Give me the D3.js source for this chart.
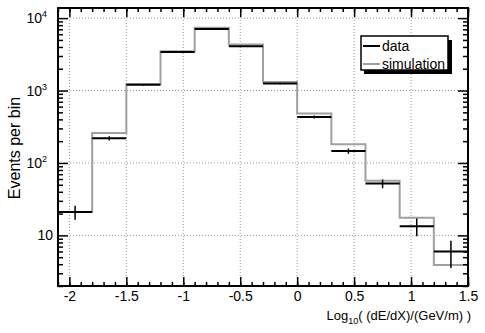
<!DOCTYPE html>
<html>
<head>
<meta charset="utf-8">
<script src="https://cdn.jsdelivr.net/npm/d3@7"></script>
<style>
body { margin: 0; background: #fff; }
svg { font-family: "Liberation Sans", Arial, sans-serif; }
</style>
</head>
<body>
<svg width="485" height="333"></svg>
<script>
// bin edges and counts
var binEdges = [-2.1, -1.8, -1.5, -1.2, -0.9, -0.6, -0.3, 0, 0.3, 0.6, 0.9, 1.2, 1.5];
var dataCounts = [21, 219, 1200, 3400, 7050, 4100, 1250, 431, 146, 52, 13.4, 6];
var simCounts = [21, 259, 1230, 3500, 7350, 4330, 1315, 481, 181, 57, 17.5, 3.9];
var xMajor = [-2, -1.5, -1, -0.5, 0, 0.5, 1, 1.5];
var yMajor = [10, 100, 1000, 10000];
var yLabels = [["10", ""], ["10", "2"], ["10", "3"], ["10", "4"]];

var svg = d3.select('svg');
var pL = 58, pR = 468, pT = 8, pB = 286;

var x = d3.scaleLinear().domain([-2.1, 1.5]).range([pL, pR]);
var y = d3.scaleLog().domain([2, 13800]).range([pB, pT]);

// grid
svg.selectAll('.vgrid').data(xMajor.filter(function(d){ return d < 1.5; })).enter()
    .append('line')
    .attr('x1', function(d){ return x(d); }).attr('x2', function(d){ return x(d); })
    .attr('y1', pT).attr('y2', pB)
    .attr('stroke', '#999').attr('stroke-width', 1).attr('stroke-dasharray', '1,2');
svg.selectAll('.hgrid').data(yMajor).enter()
    .append('line')
    .attr('x1', pL).attr('x2', pR)
    .attr('y1', function(d){ return y(d); }).attr('y2', function(d){ return y(d); })
    .attr('stroke', '#999').attr('stroke-width', 1).attr('stroke-dasharray', '1,2');

// simulation histogram as a step line
var simPts = [];
simCounts.forEach(function(c, i){
    simPts.push([binEdges[i], c]);
    simPts.push([binEdges[i + 1], c]);
});
svg.append('path')
    .attr('d', d3.line().x(function(d){ return x(d[0]); }).y(function(d){ return y(d[1]); })(simPts))
    .attr('fill', 'none').attr('stroke', '#a0a0a0').attr('stroke-width', 2);

// data: horizontal bars with sqrt(N) error bars
var g = svg.append('g');
dataCounts.forEach(function(c, i){
    var mid = (binEdges[i] + binEdges[i + 1]) / 2;
    var err = Math.sqrt(c);
    g.append('line')
        .attr('x1', x(binEdges[i])).attr('x2', x(binEdges[i + 1]))
        .attr('y1', y(c)).attr('y2', y(c))
        .attr('stroke', '#000').attr('stroke-width', 2);
    g.append('line')
        .attr('x1', x(mid)).attr('x2', x(mid))
        .attr('y1', y(c + err)).attr('y2', y(Math.max(c - err, 2)))
        .attr('stroke', '#000').attr('stroke-width', 1.5);
});

// axes: inward ticks on all four sides
var xMinor = d3.range(-21, 16).map(function(d){ return d / 10; });
var yMinor = [];
[1, 10, 100, 1000, 10000].forEach(function(p){
    for (var k = 2; k <= 9; k++) { if (p * k >= 2 && p * k <= 13800) yMinor.push(p * k); }
});

svg.append('g').attr('transform', 'translate(0,' + pB + ')')
    .call(d3.axisBottom(x).tickValues(xMinor).tickSize(-4).tickFormat(''));
svg.append('g').attr('transform', 'translate(0,' + pB + ')')
    .call(d3.axisBottom(x).tickValues(xMajor).tickSize(-9).tickPadding(5)
        .tickFormat(function(d){ return d; }));
svg.append('g').attr('transform', 'translate(0,' + pT + ')')
    .call(d3.axisTop(x).tickValues(xMinor).tickSize(-4).tickFormat(''));
svg.append('g').attr('transform', 'translate(0,' + pT + ')')
    .call(d3.axisTop(x).tickValues(xMajor).tickSize(-9).tickFormat(''));

svg.append('g').attr('transform', 'translate(' + pL + ',0)')
    .call(d3.axisLeft(y).tickValues(yMinor).tickSize(-5).tickFormat(''));
svg.append('g').attr('transform', 'translate(' + pL + ',0)')
    .call(d3.axisLeft(y).tickValues(yMajor).tickSize(-10).tickFormat(''));
svg.append('g').attr('transform', 'translate(' + pR + ',0)')
    .call(d3.axisRight(y).tickValues(yMinor).tickSize(-5).tickFormat(''));
svg.append('g').attr('transform', 'translate(' + pR + ',0)')
    .call(d3.axisRight(y).tickValues(yMajor).tickSize(-10).tickFormat(''));

svg.selectAll('.domain').remove();
svg.selectAll('.tick line').attr('stroke', '#000').attr('stroke-width', 1.5);
svg.selectAll('.tick text').attr('font-size', 14).attr('fill', '#000')
    .attr('font-family', '"Liberation Sans", Arial, sans-serif');

// frame
svg.append('rect').attr('x', pL).attr('y', pT)
    .attr('width', pR - pL).attr('height', pB - pT)
    .attr('fill', 'none').attr('stroke', '#000').attr('stroke-width', 2);

// y tick labels with superscripts
yMajor.forEach(function(v, i){
    var t = svg.append('text')
        .attr('x', yLabels[i][1] ? 47 : 53).attr('y', y(v) + 5)
        .attr('text-anchor', 'end').attr('font-size', 14);
    t.append('tspan').text(yLabels[i][0]);
    if (yLabels[i][1]) {
        t.append('tspan').attr('dy', -6).attr('font-size', 9).text(yLabels[i][1]);
    }
});

// axis titles
svg.append('text')
    .attr('transform', 'translate(20,148)rotate(-90)')
    .attr('text-anchor', 'middle').attr('font-size', 16)
    .text('Events per bin');

var xt = svg.append('text').attr('x', 471).attr('y', 320)
    .attr('text-anchor', 'end').attr('font-size', 13);
xt.append('tspan').text('Log');
xt.append('tspan').attr('dy', 4).attr('font-size', 9).text('10');
xt.append('tspan').attr('dy', -4).text('( (dE/dX)/(GeV/m) )');

// legend
var lg = svg.append('g');
lg.append('rect').attr('x', 364).attr('y', 40).attr('width', 88).attr('height', 34).attr('fill', '#000');
lg.append('rect').attr('x', 361).attr('y', 36).attr('width', 87).attr('height', 34)
    .attr('fill', '#fff').attr('stroke', '#000').attr('stroke-width', 1.5);
var legendItems = [['data', '#000'], ['simulation', '#a0a0a0']];
legendItems.forEach(function(d, i){
    var ly = 46 + i * 18;
    lg.append('line').attr('x1', 363).attr('x2', 380).attr('y1', ly).attr('y2', ly)
        .attr('stroke', d[1]).attr('stroke-width', 2);
    lg.append('text').attr('x', 382).attr('y', ly + 5).attr('font-size', 14).text(d[0]);
});
</script>
</body>
</html>
